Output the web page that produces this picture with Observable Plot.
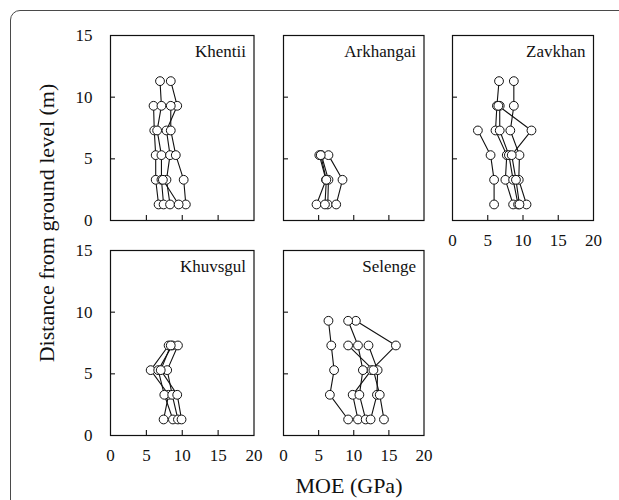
<!DOCTYPE html>
<html>
<head>
<meta charset="utf-8">
<script src="https://cdn.jsdelivr.net/npm/d3@7"></script>
<script src="https://cdn.jsdelivr.net/npm/@observablehq/plot@0.6"></script>
<style>
  html, body { margin: 0; padding: 0; background: #fff; }
  #wrap { position: relative; width: 619px; height: 500px; overflow: hidden; background: #fff; font-family: "Liberation Serif", serif; }
  #border { position: absolute; left: 10px; top: 10px; width: 640px; height: 520px; border: 1.3px solid #4a4a4a; border-radius: 10px; box-sizing: border-box; }
  .panel { position: absolute; }
  #wrap svg, #wrap svg text { font-family: "Liberation Serif", serif !important; }
  .title { position: absolute; font-family: "Liberation Serif", serif; font-size: 22px; line-height: 22px; color: #111; white-space: nowrap; text-align: center; }
</style>
</head>
<body>
<div id="wrap">
  <div id="border"></div>
</div>
<script>
// ---- data ----
const sites = ["Khentii", "Arkhangai", "Zavkhan", "Khuvsgul", "Selenge"];
const heights = [1.3, 3.3, 5.3, 7.3, 9.3, 11.3]; // m above ground
const xTicks = [0, 5, 10, 15, 20];
const yTicks = [0, 5, 10, 15];

// MOE (GPa) of each tree, at successive heights
const khentii = [
  [6.7, 6.3, 6.3, 6.1, 6.0],
  [7.4, 7.1, 7.1, 6.5, 7.1, 6.9],
  [8.3, 7.8, 8.3, 7.8, 9.3, 8.4],
  [10.5, 10.2, 9.1, 8.4, 8.4],
  [9.5, 7.3]
];
const arkhangai = [
  [4.7, 6.05, 5.1],
  [6.3, 6.4, 5.4],
  [7.5, 8.4, 6.4],
  [5.9, 6.1, 5.3]
];
const zavkhan = [
  [5.9, 5.9, 5.4, 3.6],
  [8.6, 7.5, 7.7, 6.1, 6.3, 6.6],
  [10.5, 9.4, 9.5, 8.2, 8.7, 8.7],
  [9.3, 8.6, 8.0, 6.7, 6.7],
  [9.5, 9.0, 8.4, 11.2, 6.5]
];
const khuvsgul = [
  [7.4, 8.1, 5.6, 8.1],
  [8.7, 7.5, 6.65, 8.6],
  [9.4, 8.6, 7.9, 9.4],
  [9.9, 9.3, 7.0, 8.4]
];
const selenge = [
  [9.2, 6.6, 7.2, 6.8, 6.4],
  [10.6, 9.85, 12.5, 16.0, 10.3],
  [11.7, 10.8, 11.3, 10.6, 9.2],
  [12.4, 13.3, 13.4, 12.1],
  [14.3, 13.7, 12.8, 9.2]
];
const siteTrees = [khentii, arkhangai, zavkhan, khuvsgul, selenge];

// ---- layout ----
const colX = [110, 282.5, 452];
const colW = [143.5, 140.5, 141];
const rowY = [35, 250];
const panelH = 185;
const panelPos = [[0, 0], [0, 1], [0, 2], [1, 0], [1, 1]]; // [row, col]
const showXLabels = [false, false, true, true, true];
const showYLabels = [true, false, false, true, false];
const ML = 50, MR = 10, MT = 5, MB = 35;
const FONT = "Liberation Serif";

const wrap = document.getElementById("wrap");

sites.forEach((site, i) => {
  const [r, c] = panelPos[i];
  const rows = [];
  siteTrees[i].forEach((tree, t) => {
    tree.forEach((v, k) => rows.push({tree: t, h: heights[k], moe: v}));
  });
  const w = colW[c];
  const chart = Plot.plot({
    width: ML + w + MR,
    height: MT + panelH + MB,
    marginLeft: ML, marginRight: MR, marginTop: MT, marginBottom: MB,
    style: {fontFamily: FONT, fontSize: "17px", color: "#111", background: "transparent", overflow: "visible"},
    x: {domain: [0, 20]},
    y: {domain: [0, 15]},
    marks: [
      Plot.axisX({ticks: [5, 10, 15], tickSize: -5, tickFormat: () => "", label: null, strokeWidth: 1.1}),
      Plot.axisY({ticks: [5, 10], tickSize: -5, tickFormat: () => "", label: null, strokeWidth: 1.1}),
      showXLabels[i] ? Plot.axisX({ticks: xTicks, tickSize: 0, tickPadding: 13, label: null, fontSize: 17, fontFamily: FONT}) : null,
      showYLabels[i] ? Plot.axisY({ticks: yTicks, tickSize: 0, tickPadding: 18, label: null, fontSize: 17, fontFamily: FONT}) : null,
      Plot.frame({stroke: "#111", strokeWidth: 1.2}),
      Plot.line(rows, {x: "moe", y: "h", z: "tree", stroke: "#111", strokeWidth: 1.1}),
      Plot.dot(rows, {x: "moe", y: "h", r: 4.4, fill: "white", stroke: "#111", strokeWidth: 1}),
      Plot.text([site], {frameAnchor: "top-right", textAnchor: "end", lineAnchor: "top", dx: -8, dy: 9, fontSize: 17, fontFamily: FONT, fill: "#111"})
    ]
  });
  chart.classList.add("panel");
  chart.style.left = (colX[c] - ML) + "px";
  chart.style.top = (rowY[r] - MT) + "px";
  chart.style.position = "absolute";
  wrap.appendChild(chart);
});

// axis titles
const xt = document.createElement("div");
xt.className = "title";
xt.textContent = "MOE (GPa)";
xt.style.width = "200px";
xt.style.left = (349 - 100) + "px";
xt.style.top = "475px";
wrap.appendChild(xt);

const yt = document.createElement("div");
yt.className = "title";
yt.textContent = "Distance from ground level (m)";
yt.style.width = "360px";
yt.style.left = (46.5 - 180) + "px";
yt.style.top = (222.5 - 11) + "px";
yt.style.transform = "rotate(-90deg)";
yt.style.transformOrigin = "50% 50%";
wrap.appendChild(yt);
</script>
</body>
</html>
